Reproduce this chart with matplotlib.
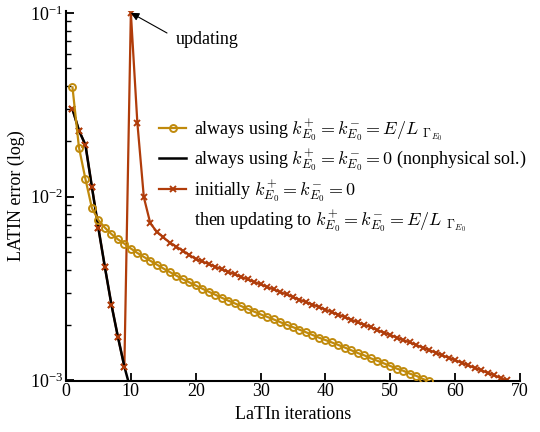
import matplotlib
matplotlib.use("Agg")
import matplotlib.pyplot as plt
from matplotlib.lines import Line2D
from matplotlib.ticker import LogLocator, NullLocator, FixedLocator

plt.rcParams['font.family'] = ['Liberation Serif', 'DejaVu Serif']
plt.rcParams['mathtext.fontset'] = 'cm'

# ---- data ----
x_gold = list(range(1, 57))
err_gold = [0.0393, 0.0185, 0.01245, 0.00865, 0.00746, 0.00678, 0.00626, 0.00586,
            0.00555, 0.00522, 0.00494, 0.00470, 0.00448, 0.00427, 0.00407, 0.00389,
            0.00372, 0.00356, 0.00342, 0.00329, 0.00316, 0.00304, 0.00293, 0.00282,
            0.00272, 0.00263, 0.00254, 0.00245, 0.00237, 0.00229, 0.00222, 0.00215,
            0.00208, 0.00201, 0.00195, 0.00189, 0.00183, 0.00177, 0.00171, 0.00166,
            0.00161, 0.00156, 0.00151, 0.00146, 0.00141, 0.00137, 0.00132, 0.00128,
            0.00124, 0.00120, 0.00116, 0.00113, 0.00109, 0.00106, 0.00102, 0.00099]

x_black = list(range(1, 11))
err_black = [0.0299, 0.0229, 0.0191, 0.01125, 0.00673, 0.00413, 0.00259, 0.00173,
             0.00119, 0.00088]

x_red = list(range(1, 69))
err_red = [0.0299, 0.0229, 0.0191, 0.01125, 0.00673, 0.00413, 0.00259, 0.00173,
           0.00119, 0.1, 0.0253, 0.00993, 0.00716, 0.00645, 0.00601, 0.00562,
           0.00535, 0.00508, 0.00482, 0.00458, 0.00444, 0.00430, 0.00416, 0.00403,
           0.00390, 0.00378, 0.00366, 0.00355, 0.00344, 0.00333, 0.00323, 0.00313,
           0.00303, 0.00294, 0.00284, 0.00275, 0.00267, 0.00259, 0.00251, 0.00243,
           0.00235, 0.00228, 0.00221, 0.00214, 0.00207, 0.00201, 0.00195, 0.00188,
           0.00182, 0.00177, 0.00171, 0.00166, 0.00161, 0.00156, 0.00151, 0.00146,
           0.00142, 0.00137, 0.00133, 0.00129, 0.00125, 0.00121, 0.00117, 0.00114,
           0.00110, 0.00107, 0.00103, 0.00100]

x_ticks = [0, 10, 20, 30, 40, 50, 60, 70]

label_gold = r"always using $k_{E_0}^{+}=k_{E_0}^{-}=E/L\;_{\Gamma_{E_0}}$"
label_black = r"always using $k_{E_0}^{+}=k_{E_0}^{-}=0$ (nonphysical sol.)"
label_red = r"initially $k_{E_0}^{+}=k_{E_0}^{-}=0$"
label_red2 = r"then updating to $k_{E_0}^{+}=k_{E_0}^{-}=E/L\;_{\Gamma_{E_0}}$"

c_gold = '#C08A0C'
c_red = '#B03C0A'

fig = plt.figure(figsize=(5.4, 4.32), dpi=100)
ax = fig.add_axes([66/540, 1-380.5/432, (520-66)/540, (380.5-11)/432])

ax.plot(x_red, err_red, color=c_red, lw=1.6, marker='x', ms=4, mew=1.4, zorder=2)
ax.plot(x_black, err_black, color='black', lw=1.8, zorder=3)
ax.plot(x_red[:9], err_red[:9], ls='none', color=c_red, marker='x', ms=4, mew=1.4, zorder=4)
ax.plot(x_gold, err_gold, color=c_gold, lw=1.6, marker='o', ms=5, mew=1.4,
        mfc='none', zorder=5)

ax.set_yscale('log')
ax.set_xlim(0, 70)
ax.set_ylim(1e-3, 0.1023)
ax.set_xticks(x_ticks)
ax.xaxis.set_minor_locator(NullLocator())
ax.yaxis.set_major_locator(FixedLocator([1e-3, 1e-2, 1e-1]))
ax.yaxis.set_minor_locator(LogLocator(base=10, subs=range(2, 10)))
ax.spines['top'].set_visible(False)
ax.spines['right'].set_visible(False)
for s in ['left', 'bottom']:
    ax.spines[s].set_linewidth(1.5)
ax.tick_params(which='major', direction='in', length=6, width=1.3, labelsize=13, pad=2)
ax.tick_params(which='minor', direction='in', length=3.5, width=1.0)
ax.set_xlabel('LaTIn iterations', fontsize=13, labelpad=4)
ax.set_ylabel('LATIN error (log)', fontsize=13, labelpad=4)

# arrow pointing at the update peak, and its label
ax.annotate('', xy=(x_red[9], err_red[9]), xytext=(167, 432 - 33),
            textcoords='figure pixels',
            arrowprops=dict(arrowstyle='-|>', color='black', lw=0.8,
                            shrinkA=0, shrinkB=0, mutation_scale=12))
fig.text(176 / 540, 1 - 39 / 432, 'updating', fontsize=13, va='center', ha='left')

handles = [Line2D([], [], color=c_gold, lw=1.6, marker='o', ms=5, mew=1.4, mfc='none'),
           Line2D([], [], color='black', lw=1.8),
           Line2D([], [], color=c_red, lw=1.6, marker='x', ms=4, mew=1.4),
           Line2D([], [], ls='none')]
leg = ax.legend(handles, [label_gold, label_black, label_red, label_red2],
                loc='upper left', bbox_to_anchor=(159/540, 1-117/432),
                bbox_transform=fig.transFigure, frameon=False, fontsize=13,
                handlelength=1.5, handletextpad=0.45, borderpad=0, borderaxespad=0,
                labelspacing=0.25, numpoints=1)

fig.savefig('out.png', dpi=100)
